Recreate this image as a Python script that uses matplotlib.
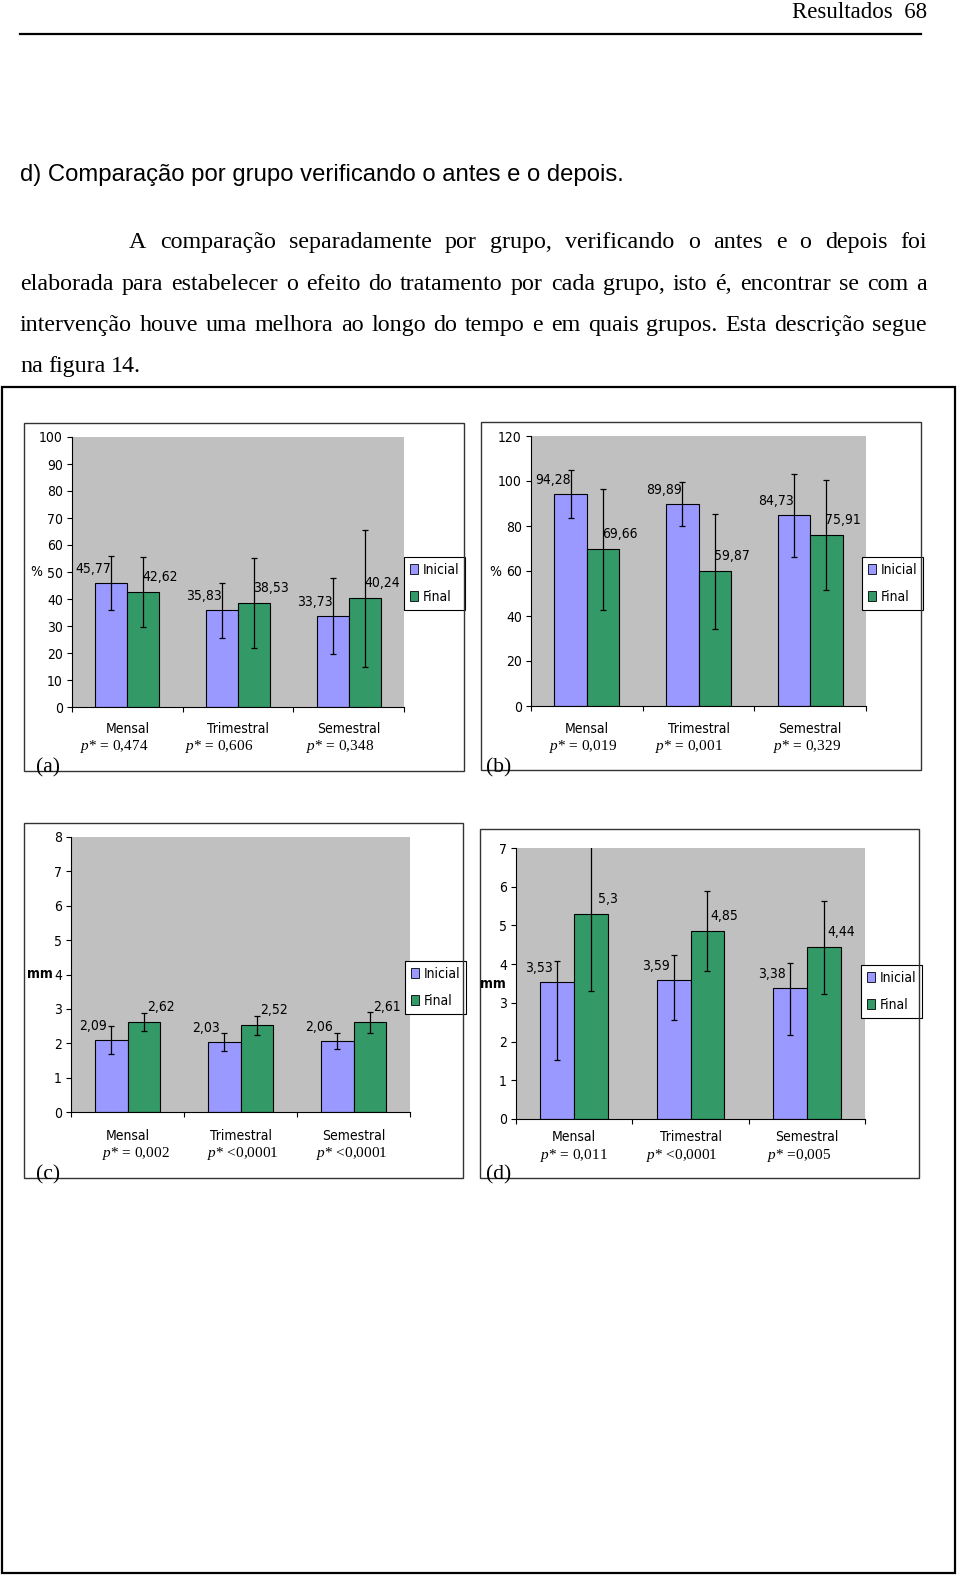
import numpy as np
import matplotlib
matplotlib.use('Agg')
import matplotlib.pyplot as plt
from matplotlib import font_manager as fm
from matplotlib.patches import Rectangle, Patch
from matplotlib.lines import Line2D

W, H = 960, 1578

grupos = ['Mensal', 'Trimestral', 'Semestral']
series = ['Inicial', 'Final']

# (a) percentual
a_inicial = [45.77, 35.83, 33.73]
a_final = [42.62, 38.53, 40.24]
a_inicial_dp = [10.0, 10.2, 14.0]
a_final_dp = [13.0, 16.8, 25.4]
a_p = ['= 0,474', '= 0,606', '= 0,348']

# (b) percentual
b_inicial = [94.28, 89.89, 84.73]
b_final = [69.66, 59.87, 75.91]
b_inicial_dp = [10.7, 9.7, 18.4]
b_final_dp = [27.0, 25.5, 24.4]
b_p = ['= 0,019', '= 0,001', '= 0,329']

# (c) mm
c_inicial = [2.09, 2.03, 2.06]
c_final = [2.62, 2.52, 2.61]
c_inicial_dp = [0.40, 0.26, 0.23]
c_final_dp = [0.25, 0.28, 0.30]
c_p = ['= 0,002', '<0,0001', '<0,0001']

# (d) mm  (barras de erro do inicial nao simetricas: [abaixo], [acima])
d_inicial = [3.53, 3.59, 3.38]
d_final = [5.30, 4.85, 4.44]
d_inicial_dp = [[2.0, 1.04, 1.2], [0.55, 0.65, 0.64]]
d_final_dp = [2.0, 1.03, 1.2]
d_p = ['= 0,011', '<0,0001', '=0,005']

COR_INI = '#9999FF'
COR_FIN = '#339966'
SERIF = 'Liberation Serif'

# fonte estreita tipo Arial Narrow, se houver
ttf = fm.fontManager.ttflist
nomes = {f.name for f in ttf}
if 'Liberation Sans Narrow' in nomes:
    NARROW = dict(family='Liberation Sans Narrow')
elif any(f.name == 'DejaVu Sans' and str(f.stretch) == 'condensed' for f in ttf):
    NARROW = dict(family='DejaVu Sans', stretch='condensed')
else:
    NARROW = dict(family='Liberation Sans')

plt.rcParams['font.family'] = NARROW['family']
plt.rcParams['font.stretch'] = NARROW.get('stretch', 'normal')
plt.rcParams['mathtext.fontset'] = 'custom'
plt.rcParams['mathtext.it'] = 'Liberation Serif:italic'
plt.rcParams['mathtext.rm'] = 'Liberation Serif'


def fx(px):
    return px / W


def fy(py):
    return 1 - py / H


def rect(x0, y0, x1, y1):
    return [fx(x0), fy(y1), (x1 - x0) / W, (y1 - y0) / H]


fig = plt.figure(figsize=(W / 100, H / 100), dpi=100)
fig.patch.set_facecolor('white')

# cabecalho da pagina
fig.text(fx(927), fy(13), 'Resultados  68', family=SERIF, fontsize=16.5,
         ha='right', va='center')
fig.add_artist(Line2D([fx(20), fx(921)], [fy(34), fy(34)], color='black', lw=1.6))
fig.text(fx(20), fy(175), 'd) Comparação por grupo verificando o antes e o depois.',
         family='Liberation Sans', fontsize=17.2, ha='left', va='center')

# paragrafo justificado
linhas = [
    ('A comparação separadamente por grupo, verificando o antes e o depois foi', 129, 242, True),
    ('elaborada para estabelecer o efeito do tratamento por cada grupo, isto é, encontrar se com a', 20, 284, True),
    ('intervenção houve uma melhora ao longo do tempo e em quais grupos. Esta descrição segue', 20, 325, True),
    ('na figura 14.', 20, 366, False),
]
renderer = fig.canvas.get_renderer()
for texto, x0, y, just in linhas:
    palavras = texto.split()
    objs = [fig.text(0, fy(y + 6), p, family=SERIF, fontsize=17.3, ha='left', va='baseline')
            for p in palavras]
    larg = [o.get_window_extent(renderer).width for o in objs]
    if just:
        gap = (927 - x0 - sum(larg)) / (len(palavras) - 1)
    else:
        gap = 5.5
    x = x0
    for o, wd in zip(objs, larg):
        o.set_x(fx(x))
        x += wd + gap

# moldura grande da figura
fig.add_artist(Rectangle((fx(2), fy(1573)), (955 - 2) / W, (1573 - 387) / H,
                         transform=fig.transFigure, fill=False, ec='black', lw=1.6))

paineis = [
    dict(letra='(a)', ini=a_inicial, fin=a_final, ini_dp=a_inicial_dp, fin_dp=a_final_dp, p=a_p,
         frame=(24, 423, 464, 771), plot=(72, 437, 404, 707), ymax=100, passo=10,
         leg=(434.5, 583.5), ylab='%', ylab_xy=(36, 572), bold=False,
         cat_y=730, p_y=746, p_x=[114, 219, 340], letra_xy=(48, 768)),
    dict(letra='(b)', ini=b_inicial, fin=b_final, ini_dp=b_inicial_dp, fin_dp=b_final_dp, p=b_p,
         frame=(481, 422, 921, 770), plot=(531, 436, 866, 706), ymax=120, passo=20,
         leg=(892.5, 583.5), ylab='%', ylab_xy=(495, 572), bold=False,
         cat_y=730, p_y=746, p_x=[583, 689, 807], letra_xy=(499, 768)),
    dict(letra='(c)', ini=c_inicial, fin=c_final, ini_dp=c_inicial_dp, fin_dp=c_final_dp, p=c_p,
         frame=(24, 823, 463, 1178), plot=(71, 837, 410, 1112), ymax=8, passo=1,
         leg=(435.5, 987.5), ylab='mm', ylab_xy=(40, 974), bold=True,
         cat_y=1137, p_y=1153, p_x=[136, 243, 352], letra_xy=(48, 1175)),
    dict(letra='(d)', ini=d_inicial, fin=d_final, ini_dp=d_inicial_dp, fin_dp=d_final_dp, p=d_p,
         frame=(480, 829, 919, 1178), plot=(516, 848, 865, 1119), ymax=7, passo=1,
         leg=(891.5, 991.5), ylab='mm', ylab_xy=(493, 984), bold=True,
         cat_y=1138, p_y=1156, p_x=[574, 682, 799], letra_xy=(499, 1175)),
]


def rotulo(v):
    return f'{v:g}'.replace('.', ',')


for pn in paineis:
    x0, y0, x1, y1 = pn['frame']
    fig.add_artist(Rectangle((fx(x0), fy(y1)), (x1 - x0) / W, (y1 - y0) / H,
                             transform=fig.transFigure, fill=False, ec='#333333', lw=1.0))
    ax = fig.add_axes(rect(*pn['plot']))
    ax.set_facecolor('#C0C0C0')
    x = np.arange(len(grupos))
    w = 0.29
    ax.bar(x - w / 2, pn['ini'], w, color=COR_INI, edgecolor='black', lw=0.8, zorder=2)
    ax.bar(x + w / 2, pn['fin'], w, color=COR_FIN, edgecolor='black', lw=0.8, zorder=2)
    ax.errorbar(x - w / 2, pn['ini'], yerr=pn['ini_dp'], fmt='none', ecolor='black',
                elinewidth=0.9, capsize=2.5, capthick=0.9, zorder=3)
    ax.errorbar(x + w / 2, pn['fin'], yerr=pn['fin_dp'], fmt='none', ecolor='black',
                elinewidth=0.9, capsize=2.5, capthick=0.9, zorder=3)
    for xi, v in zip(x - w / 2, pn['ini']):
        ax.annotate(rotulo(v), (xi, v), xytext=(-18, 14), textcoords='offset pixels',
                    ha='center', va='center', fontsize=10, zorder=4)
    for xi, v in zip(x + w / 2, pn['fin']):
        ax.annotate(rotulo(v), (xi, v), xytext=(17, 15), textcoords='offset pixels',
                    ha='center', va='center', fontsize=10, zorder=4)

    ax.set_xlim(-0.5, len(grupos) - 0.5)
    ax.set_ylim(0, pn['ymax'])
    ax.set_yticks(np.arange(0, pn['ymax'] + pn['passo'] / 2, pn['passo']))
    ax.set_xticks(x)
    ax.set_xticklabels(grupos)
    ax.set_xticks(np.arange(-0.5, len(grupos), 1.0), minor=True)
    for s in ['top', 'right']:
        ax.spines[s].set_visible(False)
    for s in ['left', 'bottom']:
        ax.spines[s].set_linewidth(0.8)
    pad = (pn['cat_y'] - pn['plot'][3] - 8) * 0.72
    ax.tick_params(axis='x', which='major', length=0, pad=pad, labelsize=10)
    ax.tick_params(axis='x', which='minor', length=3.6, width=0.8, direction='out')
    ax.tick_params(axis='y', length=3.6, width=0.8, direction='out', pad=3, labelsize=10)

    alcas = [Patch(facecolor=COR_INI, edgecolor='black', lw=0.6),
             Patch(facecolor=COR_FIN, edgecolor='black', lw=0.6)]
    leg = ax.legend(alcas, series, loc='center',
                    bbox_to_anchor=(fx(pn['leg'][0]), fy(pn['leg'][1])),
                    bbox_transform=fig.transFigure, fancybox=False, framealpha=1,
                    edgecolor='black', handlelength=0.6, handleheight=0.7,
                    handletextpad=0.3, labelspacing=0.95, borderpad=0.45,
                    fontsize=10, borderaxespad=0)
    leg.get_frame().set_linewidth(0.8)

    fig.text(fx(pn['ylab_xy'][0]), fy(pn['ylab_xy'][1]), pn['ylab'], fontsize=10,
             fontweight='bold' if pn['bold'] else 'normal', ha='center', va='center')
    for px, txt in zip(pn['p_x'], pn['p']):
        fig.text(fx(px), fy(pn['p_y']), r'$p$* ' + txt, family=SERIF, fontsize=11,
                 ha='center', va='center')
    fig.text(fx(pn['letra_xy'][0]), fy(pn['letra_xy'][1]), pn['letra'], family=SERIF,
             fontsize=15.5, ha='center', va='center')

fig.savefig('out.png', dpi=100)
